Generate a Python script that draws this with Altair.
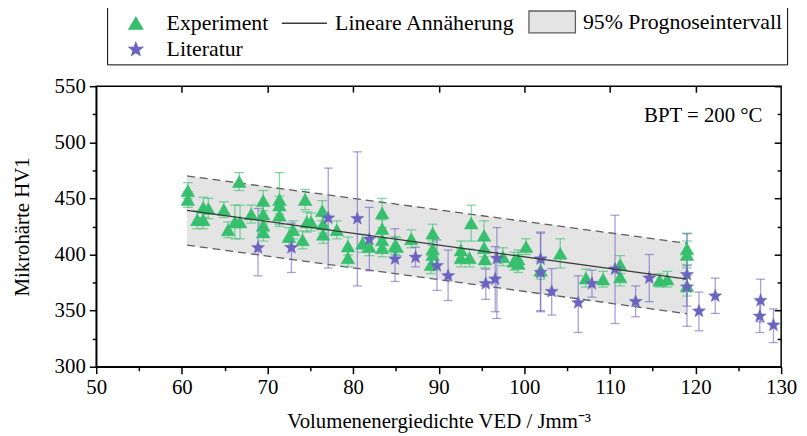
import altair as alt
import pandas as pd

# ---------------- data ----------------
exp_x = [60.7, 60.7, 61.8, 62.5, 62.5, 63.1, 64.9, 65.4, 66.2, 66.7,
         66.8, 68.1, 69.5, 69.5, 69.5, 69.5, 71.4, 71.4, 71.4, 72.5,
         73.0, 74.1, 74.4, 74.6, 75.1, 76.4, 76.5, 76.5, 78.1, 79.4,
         79.4, 81.1, 81.9, 83.4, 83.4, 83.4, 83.4, 84.9, 85.1, 86.8,
         89.3, 89.3, 89.3, 89.1, 92.6, 92.6, 93.6, 93.8, 95.3, 95.3,
         95.4, 97.5, 98.8, 99.3, 99.3, 100.2, 101.9, 104.2, 107.2, 109.2,
         111.2, 111.2, 115.8, 116.7, 119.0, 119.0, 119.0]
exp_y = [457, 449, 431, 442, 431, 441, 440, 422, 429, 465,
         429, 436, 448, 436, 426, 420, 449, 444, 435, 416,
         422, 413, 449, 429, 429, 439, 427, 418, 422, 407.5,
         397, 410, 407, 437, 423, 413, 406, 408, 407, 414,
         419, 405, 400, 391, 404, 397, 397, 428, 417, 406,
         396, 398, 394, 396, 392, 407, 386, 401, 379, 378,
         391, 380, 377, 378, 405, 400, 372]
exp_err = [7, 7, 8, 9, 8, 9, 7, 7, 15, 8,
           15, 8, 9, 10, 8, 8, 24, 8, 8, 8,
           8, 8, 9, 9, 8, 9, 8, 8, 8, 8,
           8, 8, 8, 13, 8, 8, 8, 8, 8, 8,
           8, 8, 8, 8, 8, 8, 8, 16, 13, 8,
           8, 8, 8, 8, 8, 7, 8, 13, 8, 7,
           8, 8, 6, 7, 14, 12, 9]

lit_x = [68.9, 72.8, 77.1, 80.5, 81.9, 84.9, 87.3, 89.8, 91.1, 95.5,
         96.6, 96.8, 101.9, 101.9, 103.2, 106.3, 107.9, 110.6, 113.0, 114.6,
         119.0, 119.0, 120.4, 122.3, 127.6, 127.5, 129.1]
lit_y = [406, 406, 432.5, 432, 413.5, 396, 397.5, 390, 381, 374,
         378, 396.5, 396, 384, 367, 357, 374, 387, 358, 379,
         382, 371, 349.5, 363, 359, 345, 337]
lit_lo = [381, 384, 388, 372, 385.5, 376, 389, 368, 359, 360,
          349, 343, 349, 350, 346, 330.5, 362, 338.5, 344.5, 358,
          336, 354, 332, 347.5, 340, 330.5, 321.5]
lit_hi = [441, 428, 477, 491.5, 442, 423, 406.5, 413, 404, 387,
          407, 424, 419, 420, 387.5, 381, 386, 435, 372, 400,
          418.5, 390, 366.5, 379, 378, 359, 351.5]

fit_x = [60.6, 119.0]
fit_y = [439.3, 378.0]
band_lo = [408.4, 347.2]
band_hi = [470.0, 410.0]

series_names = ["Experiment", "Lineare Annäherung", "95% Prognoseintervall", "Literatur"]
legend_order = ["Experiment", "95% Prognoseintervall", "Lineare Annäherung", "Literatur"]
x_ticks = list(range(50, 131, 5))
y_ticks = list(range(300, 551, 25))
annotation = "BPT = 200 °C"
ann_x, ann_y = [120.9], [523.5]

# ---------------- styling ----------------
FONT = "Liberation Serif"
GREEN = "#36bf6d"
PURPLE = "#6b63c0"
BAND = "#e4e4e4"
DASH = "#5e5e5e"
LINE = "#3a3a3a"
STAR = ("M0,-1L0.2469,-0.3398L0.9511,-0.309L0.3995,0.1298L0.5878,0.809"
        "L0,0.42L-0.5878,0.809L-0.3995,0.1298L-0.9511,-0.309L-0.2469,-0.3398Z")

exp_df = pd.DataFrame({"x": exp_x, "y": exp_y,
                       "lo": [y - e for y, e in zip(exp_y, exp_err)],
                       "hi": [y + e for y, e in zip(exp_y, exp_err)],
                       "series": "Experiment"})
lit_df = pd.DataFrame({"x": lit_x, "y": lit_y, "lo": lit_lo, "hi": lit_hi,
                       "series": "Literatur"})
pts_df = pd.concat([exp_df, lit_df], ignore_index=True)
band_df = pd.DataFrame({"x": fit_x, "fit": fit_y, "lo": band_lo, "hi": band_hi})
ann_df = pd.DataFrame({"x": ann_x, "y": ann_y, "t": [annotation]})

xs = alt.Scale(domain=[50, 130], nice=False, zero=False)
ys = alt.Scale(domain=[300, 550], nice=False, zero=False)

main_x_axis = alt.Axis(
    orient="bottom",
    values=x_ticks,
    labelExpr="datum.value % 10 === 0 ? datum.label : ''",
    tickSize={"condition": {"test": "datum.value % 10 === 0", "value": 7}, "value": 4},
    title="Volumenenergiedichte VED / Jmm⁻³",
    titlePadding=13, labelPadding=3, grid=False,
    labelFlush=False, labelOverlap=False,
)
main_y_axis = alt.Axis(
    orient="left",
    values=y_ticks,
    labelExpr="datum.value % 50 === 0 ? datum.label : ''",
    tickSize={"condition": {"test": "datum.value % 50 === 0", "value": 7}, "value": 4},
    title="Mikrohärte HV1",
    titlePadding=22, labelPadding=4, grid=False,
    labelFlush=False, labelOverlap=False,
)
top_axis = alt.Axis(orient="top", values=list(range(60, 121, 10)), labels=False,
                    domain=False, tickSize=6, offset=-6, title=None, grid=False)
right_major = alt.Axis(orient="right", values=list(range(300, 551, 50)), labels=False,
                       domain=False, tickSize=7, offset=-7, title=None, grid=False)
right_minor = alt.Axis(orient="right", values=list(range(325, 526, 50)), labels=False,
                       domain=False, tickSize=4, offset=-4, title=None, grid=False)

leg = alt.Legend(title=None, orient="none", legendX=11, legendY=-80, columns=3,
                 values=legend_order,
                 symbolSize=190, labelFont=FONT, labelFontSize=22, labelColor="black",
                 labelOffset=20, symbolOffset=14, padding=4, columnPadding=10, rowPadding=3,
                 strokeColor="black", fillColor="white", symbolStrokeWidth=1.3,
                 labelLimit=600)

fill_scale = alt.Scale(domain=series_names, range=[GREEN, "transparent", BAND, PURPLE])
stroke_scale = alt.Scale(domain=series_names, range=[GREEN, LINE, DASH, PURPLE])
shape_scale = alt.Scale(domain=series_names,
                        range=["triangle-up", "M-3.3,0L3.3,0",
                               "M-3.4,-1.6H3.4V1.6H-3.4Z", STAR])


def xenc(axis=None):
    return alt.X("x:Q", scale=xs, axis=axis)


band = alt.Chart(band_df).mark_area(color=BAND, opacity=1).encode(
    x=xenc(main_x_axis), y=alt.Y("lo:Q", scale=ys, axis=main_y_axis), y2="hi:Q")
upper = alt.Chart(band_df).mark_line(color=DASH, strokeDash=[8, 5], strokeWidth=1.3).encode(
    x=xenc(top_axis), y=alt.Y("hi:Q", scale=ys, axis=right_major))
lower = alt.Chart(band_df).mark_line(color=DASH, strokeDash=[8, 5], strokeWidth=1.3).encode(
    x=xenc(None), y=alt.Y("lo:Q", scale=ys, axis=right_minor))
fit = alt.Chart(band_df).mark_line(color=LINE, strokeWidth=1.3).encode(
    x=xenc(None), y=alt.Y("fit:Q", scale=ys, axis=None))


def err_layers(df, color, cap):
    rules = alt.Chart(df).mark_rule(color=color, opacity=0.6, strokeWidth=1.3).encode(
        x=xenc(None), y=alt.Y("lo:Q", scale=ys, axis=None), y2="hi:Q")
    caps = alt.Chart(df).transform_fold(["lo", "hi"], as_=["k", "v"]).mark_tick(
        orient="horizontal", size=cap, thickness=1.3, color=color, opacity=0.6).encode(
        x=xenc(None), y=alt.Y("v:Q", scale=ys, axis=None))
    return [rules, caps]


points = alt.Chart(pts_df).mark_point(filled=True, size=190, opacity=1, strokeWidth=0.5).encode(
    x=xenc(None), y=alt.Y("y:Q", scale=ys, axis=None),
    fill=alt.Fill("series:N", scale=fill_scale, legend=leg),
    stroke=alt.Stroke("series:N", scale=stroke_scale, legend=leg),
    shape=alt.Shape("series:N", scale=shape_scale, legend=leg),
)

text = alt.Chart(ann_df).mark_text(font=FONT, fontSize=21, color="black",
                                   align="center", baseline="middle").encode(
    x=xenc(None), y=alt.Y("y:Q", scale=ys, axis=None), text="t:N")

chart = alt.layer(
    band, upper, lower,
    *err_layers(exp_df, GREEN, 10),
    *err_layers(lit_df, PURPLE, 9),
    points, fit, text,
).resolve_axis(x="independent", y="independent").properties(
    width=691, height=283,
    autosize=alt.AutoSizeParams(type="none"),
    padding={"left": 89, "top": 77, "right": 18, "bottom": 66},
).configure_view(stroke="black", strokeWidth=1.5).configure_axis(
    labelFont=FONT, labelFontSize=21, labelColor="black",
    titleFont=FONT, titleFontSize=21, titleFontWeight="normal", titleColor="black",
    domainColor="black", domainWidth=1.5, tickColor="black", tickWidth=1.5,
).configure_text(font=FONT)

chart.save("out.html", embed_options={"renderer": "svg", "actions": False})
